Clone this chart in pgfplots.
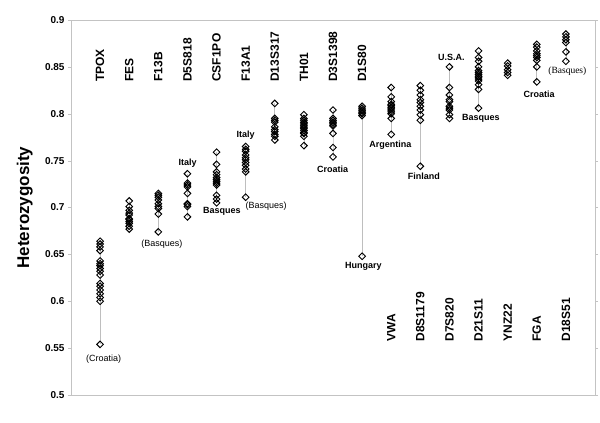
\documentclass[border=0pt]{standalone}
\usepackage{pgfplots}
\pgfplotsset{compat=1.18}
\usepackage{fontspec}
\setmainfont{Liberation Sans}
\newfontfamily\timesfont{Liberation Serif}

\definecolor{frame}{RGB}{195,195,195}
\definecolor{stem}{RGB}{190,190,190}

\tikzset{
  loc/.style={stem, line width=0.7pt, mark=square, mark size=2.35bp,
    mark options={rotate=45, draw=black, fill=white, line width=0.95pt}},
  lname/.style={font=\bfseries\fontsize{12bp}{14bp}\selectfont,
    rotate=90, anchor=west, inner sep=0pt},
  note/.style={font=\fontsize{9bp}{11bp}\selectfont, inner sep=0pt},
  bnote/.style={font=\bfseries\fontsize{9bp}{11bp}\selectfont, inner sep=0pt},
}

\begin{document}
\begin{tikzpicture}
\begin{axis}[
  scale only axis,
  width=524bp, height=375bp,
  xmin=0, xmax=18,
  ymin=0.5, ymax=0.9,
  xtick=\empty,
  ytick={0.5,0.55,...,0.9},
  yticklabel style={font=\bfseries\fontsize{10bp}{12bp}\selectfont,
    /pgf/number format/fixed, /pgf/number format/precision=2},
  /pgf/number format/assume math mode=true,
  tick align=outside,
  major tick length=3bp,
  tick style={frame},
  axis line style={frame},
  ylabel={Heterozygosity},
  ylabel style={font=\bfseries\fontsize{17bp}{20bp}\selectfont,
    at={(axis description cs:-0.088,0.5)}, anchor=center},
  clip=false,
]
% TPOX
\addplot[loc] coordinates {(1,0.664)(1,0.661)(1,0.658)(1,0.654)(1,0.643)(1,0.640)(1,0.638)(1,0.635)(1,0.632)(1,0.628)(1,0.619)(1,0.616)(1,0.612)(1,0.608)(1,0.604)(1,0.600)(1,0.554)};
% FES
\addplot[loc] coordinates {(2,0.707)(2,0.701)(2,0.697)(2,0.694)(2,0.692)(2,0.688)(2,0.687)(2,0.685)(2,0.683)(2,0.680)(2,0.677)};
% F13B
\addplot[loc] coordinates {(3,0.715)(3,0.713)(3,0.711)(3,0.708)(3,0.704)(3,0.701)(3,0.699)(3,0.693)(3,0.674)};
% D5S818
\addplot[loc] coordinates {(4,0.736)(4,0.726)(4,0.724)(4,0.722)(4,0.715)(4,0.704)(4,0.703)(4,0.701)(4,0.690)};
% CSF1PO
\addplot[loc] coordinates {(5,0.759)(5,0.746)(5,0.738)(5,0.735)(5,0.732)(5,0.730)(5,0.728)(5,0.726)(5,0.724)(5,0.713)(5,0.709)(5,0.705)};
% F13A1
\addplot[loc] coordinates {(6,0.765)(6,0.762)(6,0.760)(6,0.756)(6,0.753)(6,0.751)(6,0.748)(6,0.745)(6,0.741)(6,0.738)(6,0.711)};
% D13S317
\addplot[loc] coordinates {(7,0.811)(7,0.795)(7,0.793)(7,0.791)(7,0.786)(7,0.783)(7,0.781)(7,0.778)(7,0.776)(7,0.772)};
% TH01
\addplot[loc] coordinates {(8,0.799)(8,0.795)(8,0.793)(8,0.791)(8,0.790)(8,0.788)(8,0.787)(8,0.785)(8,0.784)(8,0.782)(8,0.780)(8,0.779)(8,0.776)(8,0.766)};
% D3S1398
\addplot[loc] coordinates {(9,0.804)(9,0.795)(9,0.793)(9,0.791)(9,0.790)(9,0.788)(9,0.787)(9,0.779)(9,0.764)(9,0.754)};
% D1S80
\addplot[loc] coordinates {(10,0.808)(10,0.806)(10,0.804)(10,0.803)(10,0.801)(10,0.800)(10,0.798)(10,0.648)};
% VWA
\addplot[loc] coordinates {(11,0.828)(11,0.818)(11,0.813)(11,0.810)(11,0.809)(11,0.807)(11,0.806)(11,0.804)(11,0.802)(11,0.800)(11,0.795)(11,0.778)};
% D8S1179
\addplot[loc] coordinates {(12,0.830)(12,0.825)(12,0.820)(12,0.815)(12,0.812)(12,0.808)(12,0.804)(12,0.799)(12,0.793)(12,0.744)};
% D7S820
\addplot[loc] coordinates {(13,0.850)(13,0.828)(13,0.820)(13,0.815)(13,0.813)(13,0.808)(13,0.806)(13,0.804)(13,0.799)(13,0.795)};
% D21S11
\addplot[loc] coordinates {(14,0.867)(14,0.860)(14,0.856)(14,0.850)(14,0.846)(14,0.844)(14,0.842)(14,0.840)(14,0.839)(14,0.837)(14,0.835)(14,0.831)(14,0.826)(14,0.806)};
% YNZ22
\addplot[loc] coordinates {(15,0.854)(15,0.851)(15,0.847)(15,0.844)(15,0.841)};
% FGA
\addplot[loc] coordinates {(16,0.874)(16,0.871)(16,0.867)(16,0.864)(16,0.862)(16,0.860)(16,0.857)(16,0.850)(16,0.834)};
% D18S51
\addplot[loc] coordinates {(17,0.885)(17,0.882)(17,0.879)(17,0.876)(17,0.866)(17,0.856)};

% locus names, upper row
\node[lname] at (axis cs:1,0.834) {TPOX};
\node[lname] at (axis cs:2,0.834) {FES};
\node[lname] at (axis cs:3,0.834) {F13B};
\node[lname] at (axis cs:4,0.834) {D5S818};
\node[lname] at (axis cs:5,0.834) {CSF1PO};
\node[lname] at (axis cs:6,0.834) {F13A1};
\node[lname] at (axis cs:7,0.834) {D13S317};
\node[lname] at (axis cs:8,0.834) {TH01};
\node[lname] at (axis cs:9,0.834) {D3S1398};
\node[lname] at (axis cs:10,0.834) {D1S80};
% locus names, lower row
\node[lname] at (axis cs:11,0.557) {VWA};
\node[lname] at (axis cs:12,0.557) {D8S1179};
\node[lname] at (axis cs:13,0.557) {D7S820};
\node[lname] at (axis cs:14,0.557) {D21S11};
\node[lname] at (axis cs:15,0.557) {YNZ22};
\node[lname] at (axis cs:16,0.557) {FGA};
\node[lname] at (axis cs:17,0.557) {D18S51};

% population notes
\node[note]  at (axis cs:1.12,0.538) {(Croatia)};
\node[note]  at (axis cs:3.12,0.661) {(Basques)};
\node[bnote] at (axis cs:4.01,0.747) {Italy};
\node[bnote] at (axis cs:5.18,0.6955) {Basques};
\node[bnote] at (axis cs:6.0,0.777) {Italy};
\node[note]  at (axis cs:6.70,0.701) {(Basques)};
\node[bnote] at (axis cs:8.99,0.741) {Croatia};
\node[bnote] at (axis cs:10.04,0.637) {Hungary};
\node[bnote] at (axis cs:10.97,0.766) {Argentina};
\node[bnote] at (axis cs:12.12,0.733) {Finland};
\node[bnote] at (axis cs:13.07,0.860) {U.S.A.};
\node[bnote] at (axis cs:14.08,0.795) {Basques};
\node[bnote] at (axis cs:16.08,0.821) {Croatia};
\node[note, font=\timesfont\fontsize{9.5bp}{11bp}\selectfont] at (axis cs:17.05,0.845) {(Basques)};

\coordinate (bl) at (rel axis cs:0,0);
\coordinate (tr) at (rel axis cs:1,1);
\end{axis}
\pgfresetboundingbox
\path (bl) ++(-71bp,-28bp) coordinate (BL);
\path (tr) ++(5bp,20bp) coordinate (TR);
\useasboundingbox (BL) rectangle (TR);
\end{tikzpicture}
\end{document}
